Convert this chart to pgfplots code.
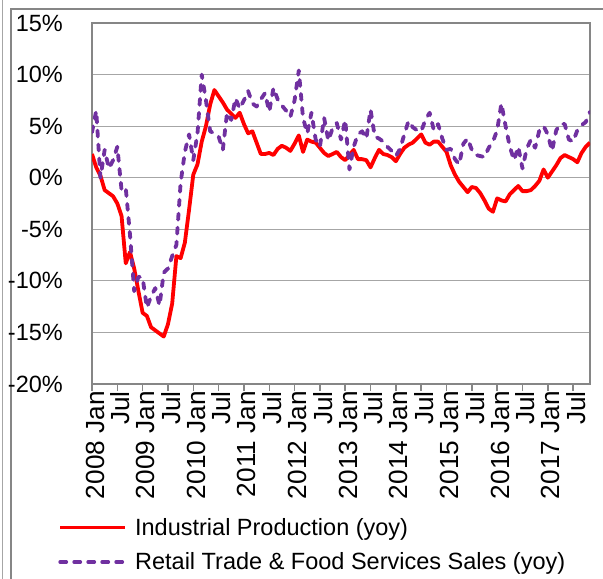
\documentclass[border=0pt]{standalone}
\usepackage{pgfplots}
\pgfplotsset{compat=1.18}
\usepackage{pgfplotstable}
\usepackage{fontspec}
\setmainfont{Liberation Sans}
\definecolor{ipred}{RGB}{255,0,0}
\definecolor{rspurple}{RGB}{112,48,160}
\definecolor{gridgray}{RGB}{166,166,166}
\definecolor{axgray}{RGB}{134,134,134}

\pgfplotstableread{
m v
0 2.3
1 1.0
2 0.2
3 -1.2
4 -1.5
5 -1.8
6 -2.5
7 -3.7
8 -8.3
9 -7.2
10 -8.8
11 -11.0
12 -13.1
13 -13.4
14 -14.5
15 -14.8
16 -15.1
17 -15.4
18 -14.2
19 -12.2
20 -7.6
21 -7.8
22 -6.3
23 -3.1
24 0.3
25 1.3
26 3.5
27 5.0
28 7.1
29 8.5
30 7.9
31 7.3
32 6.6
33 6.2
34 5.8
35 6.3
36 5.2
37 4.3
38 4.5
39 3.4
40 2.3
41 2.3
42 2.4
43 2.2
44 2.8
45 3.1
46 2.9
47 2.6
48 3.3
49 4.1
50 2.5
51 3.7
52 3.5
53 3.4
54 2.9
55 2.4
56 2.1
57 2.3
58 2.5
59 2.0
60 1.7
61 2.2
62 2.7
63 1.8
64 1.8
65 1.7
66 1.0
67 1.9
68 2.7
69 2.3
70 2.2
71 2.0
72 1.6
73 2.3
74 2.9
75 3.2
76 3.4
77 3.8
78 4.2
79 3.4
80 3.2
81 3.5
82 3.5
83 3.0
84 2.5
85 1.2
86 0.3
87 -0.4
88 -0.9
89 -1.4
90 -0.9
91 -1.0
92 -1.5
93 -2.2
94 -3.0
95 -3.3
96 -2.0
97 -2.2
98 -2.3
99 -1.6
100 -1.2
101 -0.8
102 -1.3
103 -1.3
104 -1.2
105 -0.8
106 -0.3
107 0.8
108 0.0
109 0.6
110 1.2
111 1.9
112 2.2
113 2.0
114 1.8
115 1.5
116 2.4
117 3.0
118 3.4
}\iptable

\pgfplotstableread{
m v
0 4.4
1 6.5
2 0.0
3 2.7
4 0.9
5 1.7
6 3.0
7 -1.2
8 -1.0
9 -5.5
10 -11.0
11 -9.6
12 -9.7
13 -12.6
14 -11.5
15 -10.7
16 -12.4
17 -9.2
18 -8.8
19 -7.6
20 -6.5
21 -0.5
22 2.5
23 4.2
24 1.7
25 4.3
26 10.0
27 7.5
28 4.5
29 4.3
30 4.0
31 2.7
32 6.3
33 5.6
34 7.7
35 6.7
36 7.5
37 8.4
38 7.2
39 6.9
40 7.6
41 8.2
42 6.4
43 8.7
44 7.6
45 7.0
46 6.5
47 5.9
48 7.5
49 10.4
50 5.8
51 4.3
52 6.3
53 3.7
54 3.0
55 5.8
56 3.6
57 4.8
58 5.3
59 3.7
60 5.6
61 0.8
62 3.0
63 4.2
64 4.5
65 3.8
66 6.6
67 4.0
68 3.8
69 3.5
70 3.0
71 2.6
72 2.1
73 2.8
74 4.2
75 5.5
76 4.9
77 4.6
78 4.5
79 5.6
80 6.3
81 4.6
82 5.2
83 3.8
84 2.7
85 2.8
86 1.8
87 1.3
88 3.3
89 3.8
90 2.7
91 2.2
92 2.1
93 2.0
94 2.9
95 3.5
96 4.6
97 7.2
98 5.0
99 3.0
100 1.7
101 3.0
102 0.9
103 2.8
104 3.7
105 2.9
106 4.6
107 5.0
108 4.2
109 2.6
110 4.6
111 5.2
112 5.2
113 3.7
114 3.5
115 4.6
116 5.1
117 5.4
118 6.4
}\rstable

\begin{document}
\begin{tikzpicture}
\useasboundingbox (0,0) rectangle (603bp,579bp);
\draw[gridgray, line width=1.2bp] (2.5bp,0) -- (2.5bp,579bp);
\draw[axgray, line width=1.5bp] (11bp,0) -- (11bp,570bp) -- (603bp,570bp);
\begin{axis}[
  at={(92bp,195bp)}, anchor=south west,
  scale only axis, width=498bp, height=361bp,
  xmin=0, xmax=118, ymin=-20, ymax=15,
  ytick={-20,-15,...,15},
  yticklabels={-20\%,-15\%,-10\%,-5\%,0\%,5\%,10\%,15\%},
  xtick={0,6,...,114},
  xticklabels={2008 Jan,Jul,2009 Jan,Jul,2010 Jan,Jul,2011 Jan,Jul,2012 Jan,Jul,2013 Jan,Jul,2014 Jan,Jul,2015 Jan,Jul,2016 Jan,Jul,2017 Jan,Jul},
  ymajorgrids,
  major grid style={gridgray, line width=1.2bp},
  axis line style={axgray, line width=1.6bp},
  xtick pos=bottom, ytick pos=left,
  tick align=outside, major tick length=7bp,
  xtick style={axgray, line width=1.5bp},
  ytick style={draw=none},
  yticklabel style={font=\fontsize{23.5bp}{28bp}\selectfont, inner sep=0pt, xshift=-22bp},
  xticklabel style={font=\fontsize{26.2bp}{30bp}\selectfont, rotate=90, anchor=east, inner sep=0pt, yshift=-3bp},
  legend style={draw=none, fill=none, at={(axis description cs:-0.068,-0.3655)}, anchor=north west,
    font=\fontsize{23.5bp}{28bp}\selectfont, row sep=12bp, inner sep=0pt,
    nodes={inner sep=2bp},
    /tikz/every odd column/.append style={column sep=6bp}},
  legend cell align=left,
  legend image code/.code={\draw[#1] (0bp,0bp) -- (65bp,0bp);},
]
\addplot[ipred, line width=3.8bp, line join=round] table[x=m,y=v] {\iptable};
\addlegendentry{Industrial Production (yoy)}
\addplot[rspurple, line width=3.8bp, line cap=round, line join=round, dash pattern=on 6bp off 8bp] table[x=m,y=v] {\rstable};
\addlegendentry{Retail Trade \& Food Services Sales (yoy)}
\end{axis}
\end{tikzpicture}
\end{document}
